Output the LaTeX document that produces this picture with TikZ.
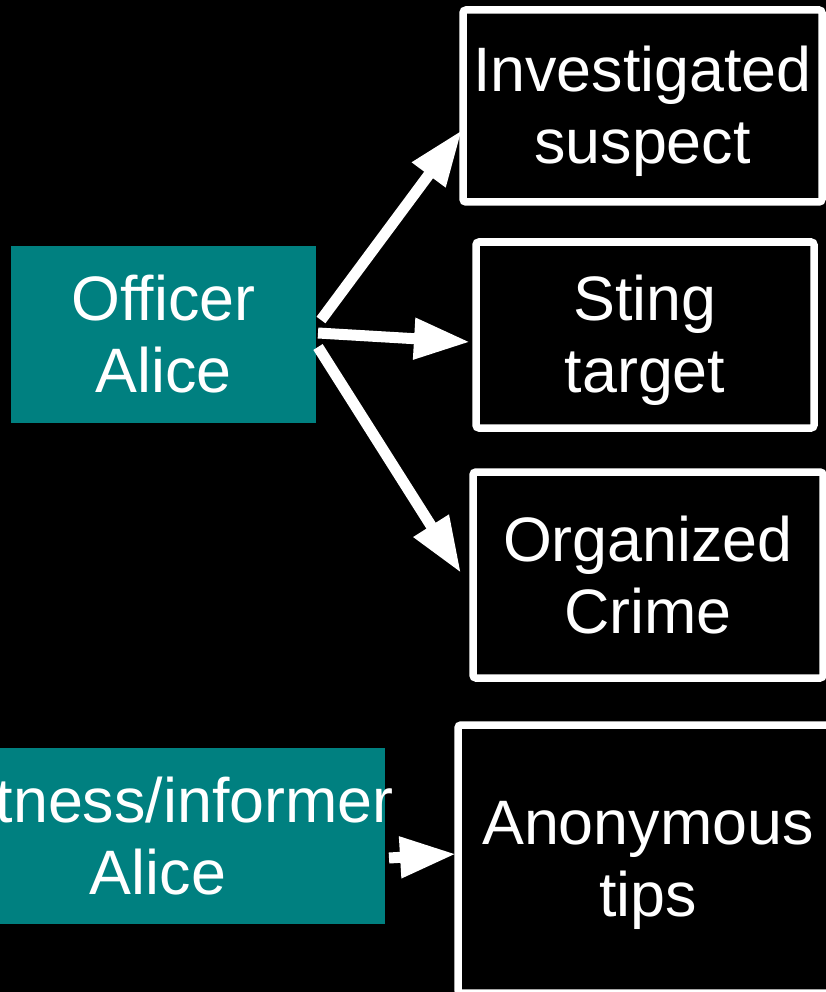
\documentclass[tikz,border=0pt]{standalone}
\usepackage{fontspec}
\setmainfont{Liberation Sans}
\usetikzlibrary{arrows.meta}
\definecolor{tealfill}{RGB}{0,128,128}
% fixed-height strut so every two-line label sits the same way in its box
\newcommand{\lblstrut}{\rule[-11.4pt]{0pt}{67.4pt}}
\begin{document}
\begin{tikzpicture}[x=1pt,y=-1pt,
  role/.style={fill=tealfill,draw=none,inner sep=0pt,outer sep=0pt},
  target/.style={draw=white,line width=7.5pt,rounded corners=3pt,fill=black,inner sep=0pt,outer sep=0pt},
  lbl/.style={text=white,align=center,inner sep=0pt,font=\fontsize{62.8pt}{72pt}\selectfont},
  link/.style={draw=white,line width=11pt,-{Triangle[length=56pt,width=39pt]}}
]
\useasboundingbox (0,0) rectangle (826,992);
\fill[black] (0,0) rectangle (826,992);

% people
\node[role,minimum width=305pt,minimum height=177pt] (officer) at (163.5,334.5) {};
\node[lbl] (officertext) at (officer.center) {\lblstrut Officer\\\lblstrut Alice};
\node[role,minimum width=454pt,minimum height=176pt] (witness) at (158,836) {};
\node[lbl] (witnesstext) at (witness.center) {\lblstrut Witness/informer\\\lblstrut Alice};

% identities
\node[target,minimum width=359pt,minimum height=192pt] (suspect) at (642.5,106) {};
\node[lbl] (suspecttext) at (suspect.center) {\lblstrut Investigated\\\lblstrut suspect};
\node[target,minimum width=338pt,minimum height=186pt] (sting) at (645,335) {};
\node[lbl] (stingtext) at (sting.center) {\lblstrut Sting\\\lblstrut target};
\node[target,minimum width=350pt,minimum height=206pt] (crime) at (648,575) {};
\node[lbl] (crimetext) at (crime.center) {\lblstrut Organized\\\lblstrut Crime};
\node[target,minimum width=380pt,minimum height=268pt] (tips) at (648,859) {};
\node[lbl] (tipstext) at (tips.center) {\lblstrut Anonymous\\\lblstrut tips};

% arrow end points
\coordinate (o1) at (321,320);
\coordinate (o2) at (318,333);
\coordinate (o3) at (318,347);
\coordinate (w1) at (389,858);
\coordinate (suspectin) at (462,130);
\coordinate (stingin) at (470,342);
\coordinate (crimein) at (461,573);
\coordinate (tipsin) at (456,854);

\draw[link] (o1) -- (suspectin);
\draw[link] (o2) -- (stingin);
\draw[link] (o3) -- (crimein);
\draw[link] (w1) -- (tipsin);
\end{tikzpicture}
\end{document}
